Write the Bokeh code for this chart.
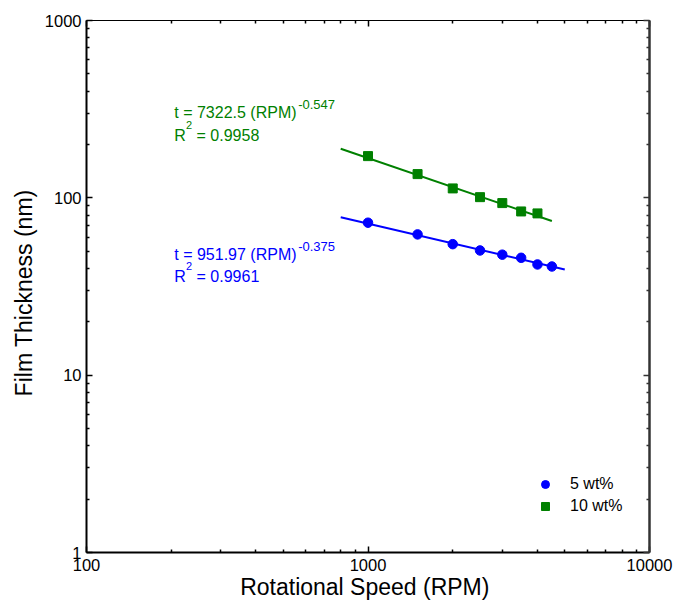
from bokeh.plotting import figure
from bokeh.models import (Range1d, LogAxis, FixedTicker, PrintfTickFormatter,
                          Label, Legend, LegendItem, CustomLabelingPolicy)
from bokeh.embed import file_html
from bokeh.resources import INLINE

# ---------------- data ----------------
rpm_5 = [1000, 1500, 2000, 2500, 3000, 3500, 4000, 4500]
thick_5 = [72.4, 62.2, 54.8, 50.5, 47.8, 45.9, 42.1, 41.0]
rpm_10 = [1000, 1500, 2000, 2500, 3000, 3500, 4000]
thick_10 = [171.9, 136.1, 113.0, 100.9, 93.4, 83.8, 81.7]

fit_rpm_5 = [800, 5000]
fit_thick_5 = [77.8, 39.4]
fit_rpm_10 = [800, 4500]
fit_thick_10 = [189.0, 74.0]

x_major = [100, 1000, 10000]
y_major = [1, 10, 100, 1000]
series_labels = ["5 wt%", "10 wt%"]
eq_5 = ["t = 951.97 (RPM)", "-0.375", "= 0.9961"]
eq_10 = ["t = 7322.5 (RPM)", "-0.547", "= 0.9958"]
x_title = "Rotational Speed (RPM)"
y_title = "Film Thickness (nm)"

BLUE = "#0000FF"
GREEN = "#008000"
FONT = "Liberation Sans"

x_minor = [m * k for m in x_major[:-1] for k in range(2, 10)]
y_minor = [m * k for m in y_major[:-1] for k in range(2, 10)]

p = figure(width=674, height=603, x_axis_type="log", y_axis_type="log",
           x_range=Range1d(100, 10000), y_range=Range1d(1, 1000),
           output_backend="svg", toolbar_location=None,
           min_border_left=86, min_border_right=25,
           min_border_top=20, min_border_bottom=51)
p.grid.visible = False
p.outline_line_color = None
p.background_fill_color = "white"
p.border_fill_color = "white"


def style_axis(ax, major, minor, show_labels, lw, color, standoff):
    ax.ticker = FixedTicker(ticks=major, minor_ticks=minor)
    ax.formatter = PrintfTickFormatter(format="%d")
    ax.major_tick_in = 6
    ax.major_tick_out = 0
    ax.minor_tick_in = 3
    ax.minor_tick_out = 0
    ax.axis_line_width = lw
    ax.axis_line_color = color
    ax.major_tick_line_color = color
    ax.minor_tick_line_color = color
    ax.major_tick_line_width = 1.5
    ax.minor_tick_line_width = 1.5
    ax.major_label_text_font = FONT
    ax.major_label_text_color = "black"
    ax.major_label_text_font_size = "16.5px"
    ax.major_label_standoff = standoff
    if not show_labels:
        ax.major_label_overrides = {t: "" for t in major}
        ax.major_label_policy = CustomLabelingPolicy(code="")
        ax.major_label_text_font_size = "1px"
        ax.major_label_standoff = 0


style_axis(p.xaxis[0], x_major, x_minor, True, 2, "black", 6)
style_axis(p.yaxis[0], y_major, y_minor, True, 2, "black", 5)

p.xaxis[0].axis_label = x_title + "\u00a0"
p.xaxis[0].axis_label_standoff = 0
p.xaxis[0].axis_label_text_font = FONT
p.xaxis[0].axis_label_text_font_size = "23px"
p.xaxis[0].axis_label_text_font_style = "normal"
p.xaxis[0].axis_label_text_color = "black"

p.yaxis[0].axis_label = y_title + "\u00a0\u00a0"
p.yaxis[0].axis_label_standoff = 5
p.yaxis[0].axis_label_text_font = FONT
p.yaxis[0].axis_label_text_font_size = "23px"
p.yaxis[0].axis_label_text_font_style = "normal"
p.yaxis[0].axis_label_text_color = "black"

top_ax = LogAxis()
style_axis(top_ax, x_major, x_minor, False, 1, "black", 0)
p.add_layout(top_ax, "above")
right_ax = LogAxis()
style_axis(right_ax, y_major, y_minor, False, 2.5, "#333333", 0)
p.add_layout(right_ax, "right")

# fit lines
p.line(fit_rpm_10, fit_thick_10, line_color=GREEN, line_width=2)
p.line(fit_rpm_5, fit_thick_5, line_color=BLUE, line_width=2)

# data points
r5 = p.scatter(rpm_5, thick_5, marker="circle", size=9.5, color=BLUE)
r10 = p.scatter(rpm_10, thick_10, marker="square", size=9, color=GREEN)

legend = Legend(items=[LegendItem(label=series_labels[0], renderers=[r5]),
                       LegendItem(label=series_labels[1], renderers=[r10])],
                location=(449, 36), padding=0, margin=0, spacing=2,
                glyph_width=20, glyph_height=20, label_standoff=15,
                label_text_font=FONT, label_text_font_size="16px",
                label_text_color="black",
                border_line_color=None, background_fill_alpha=0)
p.add_layout(legend)


def eq_labels(eq, color, y_main, y_sup, y_r, y_r2):
    lab = dict(text_font=FONT, text_color=color, text_baseline="alphabetic")
    p.add_layout(Label(x=205, y=y_main, text=eq[0], text_font_size="16px", **lab))
    p.add_layout(Label(x=565, y=y_sup, text=eq[1], text_font_size="13px", **lab))
    p.add_layout(Label(x=205, y=y_r, text="R", text_font_size="16px", **lab))
    p.add_layout(Label(x=225.7, y=y_r2, text="2", text_font_size="11px", **lab))
    p.add_layout(Label(x=246, y=y_r, text=eq[2], text_font_size="16px", **lab))


eq_labels(eq_10, GREEN, 303, 336, 226, 259)
eq_labels(eq_5, BLUE, 48.0, 53.2, 35.8, 41.0)

open("out.html", "w").write(file_html(p, INLINE))
